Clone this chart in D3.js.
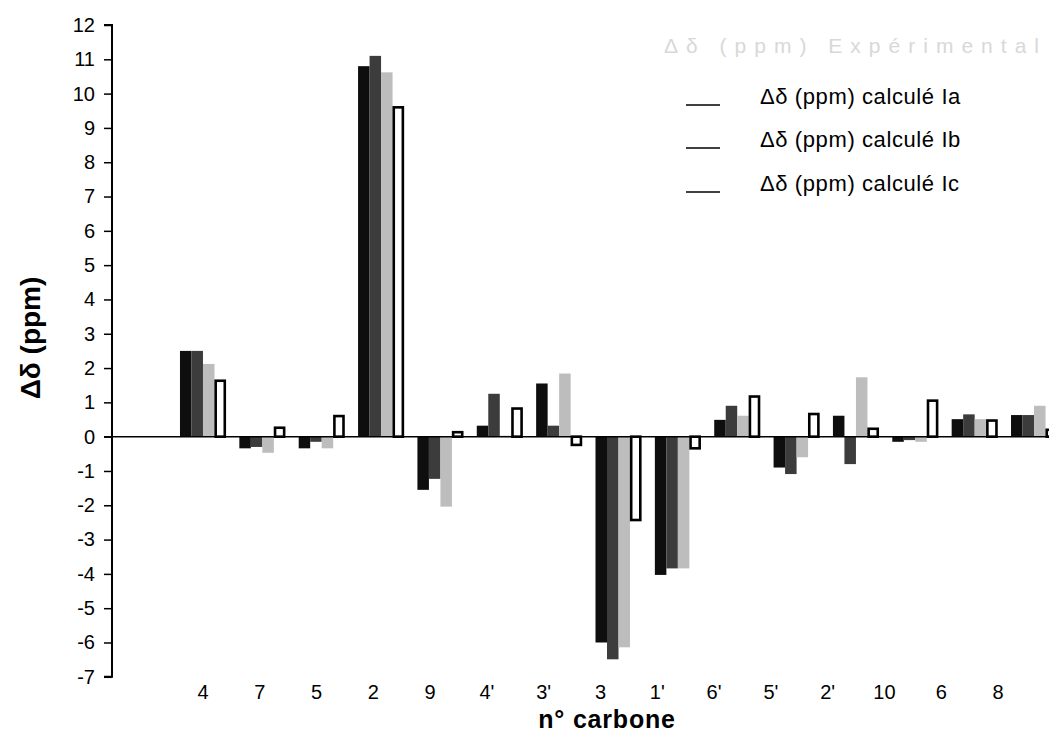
<!DOCTYPE html>
<html>
<head>
<meta charset="utf-8">
<script src="https://cdn.jsdelivr.net/npm/d3@7"></script>
<style>
  body { margin: 0; background: #fff; }
  svg { display: block; font-family: "Liberation Sans", Arial, sans-serif; }
</style>
</head>
<body>
<div id="chart"></div>
<script>
// carbon numbers, in the order of the x axis
const carbons = ["4", "7", "5", "2", "9", "4'", "3'", "3", "1'", "6'", "5'", "2'", "10", "6", "8"];

// delta delta (ppm) per series
const experimental = [2.5, -0.34, -0.34, 10.8, -1.55, 0.32, 1.55, -6.0, -4.03, 0.49, -0.9, 0.61, -0.15, 0.51, 0.63];
const calcIa = [2.5, -0.3, -0.15, 11.1, -1.23, 1.25, 0.32, -6.49, -3.84, 0.9, -1.09, -0.8, -0.1, 0.65, 0.63];
const calcIb = [2.12, -0.47, -0.34, 10.62, -2.04, 0.03, 1.84, -6.14, -3.84, 0.61, -0.6, 1.73, -0.15, 0.51, 0.9];
const calcIc = [1.63, 0.26, 0.6, 9.6, 0.13, 0.82, -0.24, -2.43, -0.34, 1.17, 0.66, 0.23, 1.05, 0.47, 0.2];

const seriesNames = ["Δδ (ppm) Expérimental", "Δδ (ppm) calculé Ia", "Δδ (ppm) calculé Ib", "Δδ (ppm) calculé Ic"];
const seriesValues = [experimental, calcIa, calcIb, calcIc];
const yTicks = d3.range(-7, 13);

const width = 1049, height = 734;
const fills = ["#0e0e0e", "#3c3c3c", "#bdbdbd", "#ffffff"];

const svg = d3.select("#chart").append("svg")
  .attr("width", width)
  .attr("height", height);

// y scale
const y = d3.scaleLinear().domain([-7, 12]).range([676.8, 25]);

// bar groups (run past the right edge like the original)
const x = d3.scaleBand().domain(carbons).range([173.3, 1063.7]).paddingInner(0.225).paddingOuter(0.1125);
const xs = d3.scaleBand().domain(d3.range(4)).range([0, x.bandwidth()]);
// tick labels sit on their own spacing in the original
const xLabel = d3.scalePoint().domain(carbons).range([203, 998]);

const rows = [];
carbons.forEach((c, i) => {
  seriesValues.forEach((vals, s) => rows.push({c: c, s: s, v: vals[i]}));
});

svg.append("g").selectAll("rect").data(rows).join("rect")
  .attr("x", d => x(d.c) + xs(d.s) + (d.s == 3 ? 1.2 : 0))
  .attr("width", d => xs.bandwidth() - (d.s == 3 ? 2.4 : 0))
  .attr("y", d => Math.min(y(d.v), y(0)))
  .attr("height", d => Math.abs(y(d.v) - y(0)))
  .attr("fill", d => fills[d.s])
  .attr("stroke", d => d.s == 3 ? "#000" : "none")
  .attr("stroke-width", 2.6);

// zero line
svg.append("line")
  .attr("x1", 104).attr("x2", width)
  .attr("y1", y(0)).attr("y2", y(0))
  .attr("stroke", "#000").attr("stroke-width", 1.5);

// y axis
const yAxis = svg.append("g")
  .attr("transform", "translate(112,0)")
  .call(d3.axisLeft(y).tickValues(yTicks).tickSize(8).tickPadding(9).tickFormat(d => String(d)));
yAxis.select(".domain").attr("stroke-width", 2).attr("d", "M-8," + y(12) + "H0V" + (y(-7)) + "H-8");
yAxis.selectAll(".tick line").attr("stroke-width", 1.5);
yAxis.selectAll("text").attr("font-size", 20).attr("fill", "#000").attr("font-family", "Liberation Sans, Arial, sans-serif");

// x labels
svg.append("g").selectAll("text").data(carbons).join("text")
  .attr("x", d => xLabel(d))
  .attr("y", 699)
  .attr("text-anchor", "middle")
  .attr("font-size", 20)
  .text(d => d);

// axis titles
svg.append("text")
  .attr("x", 607).attr("y", 728)
  .attr("text-anchor", "middle")
  .attr("font-size", 25).attr("font-weight", "bold")
  .attr("letter-spacing", 0.8)
  .text("n° carbone");

svg.append("text")
  .attr("transform", "translate(40,338) rotate(-90)")
  .attr("text-anchor", "middle")
  .attr("font-size", 28).attr("font-weight", "bold")
  .text("Δδ (ppm)");

// legend
svg.append("text")
  .attr("x", 664).attr("y", 53)
  .attr("font-size", 21).attr("fill", "#d8d8d8")
  .attr("textLength", 375).attr("lengthAdjust", "spacing")
  .text(seriesNames[0]);

const legendY = [105, 148, 192];
const lg = svg.append("g").selectAll("g").data(seriesNames.slice(1)).join("g")
  .attr("transform", (d, i) => "translate(0," + legendY[i] + ")");
lg.append("line")
  .attr("x1", 686).attr("x2", 720)
  .attr("stroke", "#000").attr("stroke-width", 1.3);
lg.append("text")
  .attr("x", 760).attr("y", -1)
  .attr("font-size", 22)
  .attr("letter-spacing", 0.6)
  .text(d => d);
</script>
</body>
</html>
